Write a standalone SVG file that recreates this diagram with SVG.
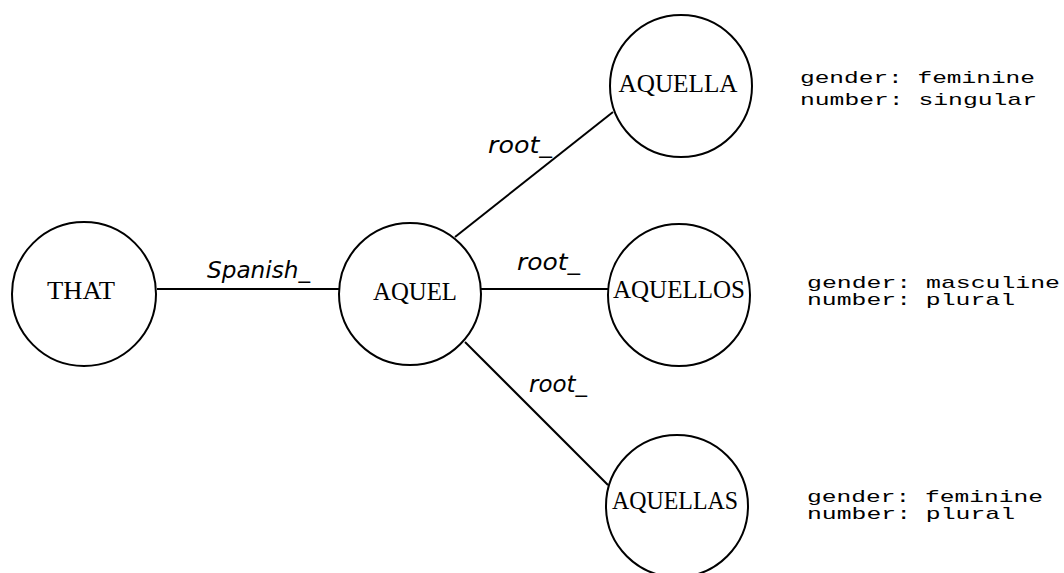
<svg xmlns="http://www.w3.org/2000/svg" width="1064" height="573" viewBox="0 0 1064 573">
<style>
.node circle{fill:#fff;stroke:#000;stroke-width:2}
.nl{font-family:"Liberation Serif","Times New Roman",serif;font-size:26px;fill:#000;text-anchor:middle}
.edge line{stroke:#000;stroke-width:2}
.el{font-family:"DejaVu Sans",Verdana,sans-serif;font-style:italic;font-size:23px;fill:#000}
.attr{font-family:"Liberation Mono","Courier New",monospace;font-size:17px;fill:#000}
</style>
<rect width="1064" height="573" fill="#fff"/>
<g id="connectors" class="edge">
  <line x1="157" y1="289" x2="339" y2="289"/>
  <line x1="455" y1="237" x2="613" y2="112"/>
  <line x1="481" y1="289" x2="608" y2="289"/>
  <line x1="465" y1="342" x2="608" y2="485"/>
  <text class="el" x="207" y="278" textLength="103" lengthAdjust="spacingAndGlyphs">Spanish_</text>
  <text class="el" x="488" y="153" textLength="64" lengthAdjust="spacingAndGlyphs">root_</text>
  <text class="el" x="517" y="270" textLength="63" lengthAdjust="spacingAndGlyphs">root_</text>
  <text class="el" x="529" y="392" textLength="58" lengthAdjust="spacingAndGlyphs">root_</text>
</g>
<g id="node-that" class="node">
  <circle cx="84" cy="294" r="72"/>
  <text class="nl" x="81" y="299" textLength="68" lengthAdjust="spacingAndGlyphs">THAT</text>
</g>
<g id="node-aquel" class="node">
  <circle cx="410" cy="294" r="71"/>
  <text class="nl" x="415" y="300" textLength="84" lengthAdjust="spacingAndGlyphs">AQUEL</text>
</g>
<g id="node-aquella" class="node">
  <circle cx="681" cy="86" r="71"/>
  <text class="nl" x="678" y="92" textLength="119" lengthAdjust="spacingAndGlyphs">AQUELLA</text>
</g>
<g id="node-aquellos" class="node">
  <circle cx="679" cy="295" r="71"/>
  <text class="nl" x="679" y="298" textLength="132" lengthAdjust="spacingAndGlyphs">AQUELLOS</text>
</g>
<g id="node-aquellas" class="node">
  <circle cx="677" cy="506" r="71"/>
  <text class="nl" x="675" y="509" textLength="126" lengthAdjust="spacingAndGlyphs">AQUELLAS</text>
</g>
<g id="attrs-aquella">
  <text class="attr" x="800" y="83" textLength="235" lengthAdjust="spacingAndGlyphs">gender: feminine</text>
  <text class="attr" x="800" y="105" textLength="237" lengthAdjust="spacingAndGlyphs">number: singular</text>
</g>
<g id="attrs-aquellos">
  <text class="attr" x="807" y="288" textLength="253" lengthAdjust="spacingAndGlyphs">gender: masculine</text>
  <text class="attr" x="807" y="305" textLength="208" lengthAdjust="spacingAndGlyphs">number: plural</text>
</g>
<g id="attrs-aquellas">
  <text class="attr" x="807" y="502" textLength="236" lengthAdjust="spacingAndGlyphs">gender: feminine</text>
  <text class="attr" x="807" y="519" textLength="208" lengthAdjust="spacingAndGlyphs">number: plural</text>
</g>
</svg>
